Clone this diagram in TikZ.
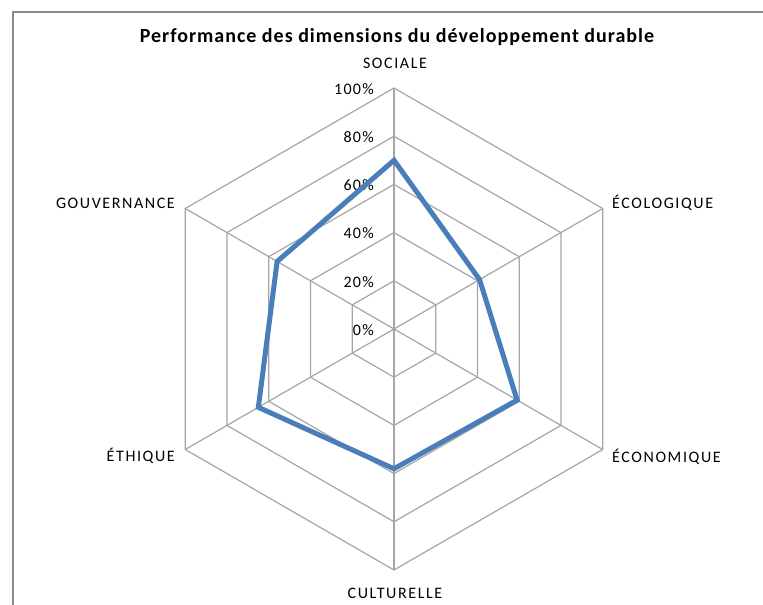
\documentclass[tikz,border=0pt]{standalone}
\usepackage{fontspec}
\setmainfont{Carlito}
\definecolor{gridgray}{HTML}{A6A6A6}
\definecolor{framegray}{HTML}{8C8C8C}
\definecolor{serieblue}{HTML}{4A7EBB}
\begin{document}
\begin{tikzpicture}[x=1pt,y=1pt,
  gridline/.style={draw=gridgray, line width=1.2pt},
  seriesline/.style={draw=serieblue, line width=5pt, line join=miter},
  axislabel/.style={inner sep=0pt, font=\fontsize{16}{18}\selectfont\addfontfeature{LetterSpace=10}, text=black},
  ticklabel/.style={inner sep=0pt, anchor=east, font=\fontsize{16}{18}\selectfont\addfontfeature{LetterSpace=8}, text=black},
  titlelabel/.style={inner sep=0pt, font=\fontsize{20}{23}\selectfont\bfseries\addfontfeature{LetterSpace=5}, text=black}]
\useasboundingbox (0,0) rectangle (763,605);
\fill[white] (0,0) rectangle (763,605);
% chart frame
\draw[framegray, line width=1.5pt] (13,0) -- (13,593) -- (763,593);
% title
\node[titlelabel] (title) at (397,568) {Performance des dimensions du développement durable};
\begin{scope}[shift={(394,276)}]
  \coordinate (c) at (0,0);
  % rings
  \foreach \r in {48.2,96.4,144.6,192.8,241} {
    \draw[gridline] (90:\r) -- (30:\r) -- (-30:\r) -- (-90:\r) -- (-150:\r) -- (150:\r) -- cycle;
  }
  % spokes
  \foreach \a/\n in {90/s,30/eco,-30/econ,-90/cul,-150/eth,150/gov} {
    \coordinate (ax\n) at (\a:241);
    \draw[gridline] (c) -- (ax\n);
  }
  % tick labels
  \foreach \k/\t in {0/0\%,1/20\%,2/40\%,3/60\%,4/80\%,5/100\%} {
    \node[ticklabel] (tick\k) at (-20,{\k*48.2-1}) {\t};
  }
  % data points
  \coordinate (p1) at (90:{0.70*241});
  \coordinate (p2) at (30:{0.41*241});
  \coordinate (p3) at (-30:{0.59*241});
  \coordinate (p4) at (-90:{0.58*241});
  \coordinate (p5) at (-150:{0.65*241});
  \coordinate (p6) at (150:{0.56*241});
  \draw[seriesline] (p1) -- (p2) -- (p3) -- (p4) -- (p5) -- (p6) -- cycle;
\end{scope}
% axis labels
\node[axislabel] (lsoc) at (395,542) {SOCIALE};
\node[axislabel, anchor=west] (leco) at (612,402) {ÉCOLOGIQUE};
\node[axislabel, anchor=west] (lecon) at (612,148) {ÉCONOMIQUE};
\node[axislabel] (lcul) at (395,12) {CULTURELLE};
\node[axislabel, anchor=east] (lgov) at (175,402) {GOUVERNANCE};
\node[axislabel, anchor=east] (leth) at (175,149) {ÉTHIQUE};
\end{tikzpicture}
\end{document}
